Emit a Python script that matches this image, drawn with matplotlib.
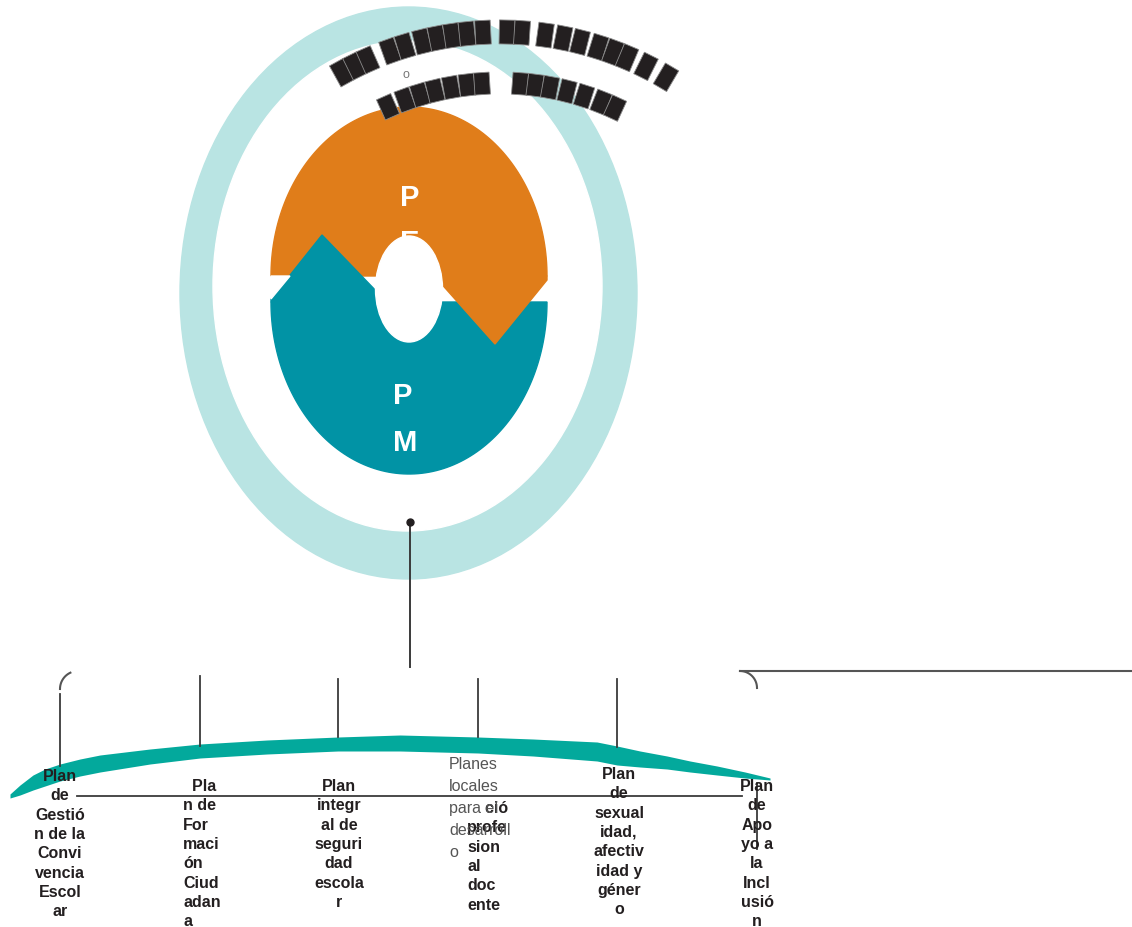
import numpy as np
import matplotlib
matplotlib.use("Agg")
import matplotlib.pyplot as plt
from matplotlib.patches import Ellipse, Polygon

# --- data -------------------------------------------------------------
center_letters_top = "P\nE"
center_letters_bottom = "P\nM\nE"

# x positions of the (unrendered) title glyph boxes along the two arcs
outer_block_x = [342, 355, 368, 390, 405, 422, 437, 452, 467, 483,
                 507, 522, 545, 563, 580, 598, 613, 627, 646, 666]
inner_block_x = [388, 405, 420, 435, 451, 467, 482,
                 520, 535, 550, 567, 584, 601, 615]

plan_labels = [
    "Plan\nde\nGestió\nn de la\nConvi\nvencia\nEscol\nar",
    "  Pla\nn de\nFor\nmaci\nón\nCiud\nadan\na",
    "Plan\nintegr\nal de\nseguri\ndad\nescola\nr",
    "    ció\nprofe\nsion\nal\ndoc\nente",
    "Plan\nde\nsexual\nidad,\nafectiv\nidad y\ngéner\no",
    "Plan\nde\nApo\nyo a\nla\nIncl\nusió\nn",
]
plan_faint_label = "Planes\nlocales\npara el\ndesarroll\no"

# swoosh band under the plans (pixel layout)
swoosh_x = [10, 20, 33, 45, 60, 80, 100, 150, 200, 267, 338, 400, 478, 533,
            597, 617, 640, 667, 690, 717, 745, 770]
swoosh_top = [795, 786, 776, 770, 765, 760, 756, 750, 745, 741, 738, 736, 738,
              740, 743, 747, 752, 757, 762, 767, 773, 779]
swoosh_bot = [799, 796, 791, 787, 782, 777, 773, 765, 759, 755, 752, 752, 754,
              757, 762, 766, 768, 770, 773, 776, 779, 781]

# --- style ------------------------------------------------------------
RING = "#b9e4e3"
ORANGE = "#e07d1a"
TEAL = "#0193a5"
SWOOSH = "#03a99c"
INK = "#231f20"
LINE = "#3a3a3a"
FONT = ["Liberation Sans", "DejaVu Sans"]

fig = plt.figure(figsize=(11.32, 9.28), dpi=100)
ax = fig.add_axes([0, 0, 1, 1])
ax.set_xlim(0, 1132)
ax.set_ylim(928, 0)
ax.axis("off")

# outer ring
ax.add_patch(Ellipse((408.5, 294), 457, 572, color=RING, zorder=1))
ax.add_patch(Ellipse((407.5, 287), 389, 490, color="white", zorder=1))

# orange top half and teal bottom half
t = np.linspace(0, np.pi, 120)
ox = 409 + 138 * np.cos(t)
oy = 277 - 169 * np.sin(t)
ax.add_patch(Polygon(np.column_stack([ox, oy]), color=ORANGE, zorder=2))
ty = 303 + 172 * np.sin(t)
ax.add_patch(Polygon(np.column_stack([ox, ty]), color=TEAL, zorder=2))
# teal peak on the left, orange wedge on the right
ax.add_patch(Polygon([(271, 303), (271, 300), (322, 236), (380, 296), (380, 303)],
                     color=TEAL, zorder=3))
ax.add_patch(Polygon([(438, 277), (547, 277), (547, 281), (495, 345), (438, 281)],
                     color=ORANGE, zorder=3))
ax.add_patch(Polygon([(271, 277), (290, 277), (271, 300)], color="white", zorder=3))

ax.text(400, 184, center_letters_top, color="white", fontsize=21, fontweight="bold",
        family=FONT, ha="left", va="top", multialignment="left",
        linespacing=1.79, zorder=4)
ax.text(393, 382, center_letters_bottom, color="white", fontsize=21, fontweight="bold",
        family=FONT, ha="left", va="top", multialignment="left",
        linespacing=1.87, zorder=4)

# hole
ax.add_patch(Ellipse((409, 290), 67, 106, color="white", zorder=5))


# glyph boxes along the arcs
def draw_blocks(xs, cx, cy, r, w, h):
    for x in xs:
        y = cy - np.sqrt(r ** 2 - (x - cx) ** 2)
        n = np.array([x - cx, y - cy]) / r
        tv = np.array([-n[1], n[0]])
        c = np.array([x, y])
        pts = [c - tv * w / 2 - n * h / 2, c + tv * w / 2 - n * h / 2,
               c + tv * w / 2 + n * h / 2, c - tv * w / 2 + n * h / 2]
        ax.add_patch(Polygon(pts, facecolor=INK, edgecolor="#8a8a8a",
                             linewidth=0.6, zorder=6))


draw_blocks(outer_block_x, 500, 360, 327, 15.5, 24)
draw_blocks(inner_block_x, 500, 360, 276, 15.5, 22)
ax.text(406, 75, "o", color="#777777", fontsize=9, family=FONT,
        ha="center", va="center", zorder=6)

# connector from the circle down to the plans
ax.plot([410, 410], [523, 668], color=LINE, lw=1.4, zorder=6)
ax.plot([410], [523], "o", color=INK, ms=5, zorder=6)

# bracket corners and top rule
a = np.linspace(np.pi, np.radians(115), 20)
ax.plot(78 + 18 * np.cos(a), 690 - 18 * np.sin(a), color="#555555", lw=1.5)
a = np.linspace(np.pi / 2, 0, 20)
ax.plot(740 + 17 * np.cos(a), 689 - 17 * np.sin(a), color="#555555", lw=1.5)
ax.plot([740, 1132], [672, 672], color="#555555", lw=1.5)

# swoosh
ax.fill_between(swoosh_x, swoosh_top, swoosh_bot, color=SWOOSH, lw=0, zorder=2)

# baseline and ticks
ax.plot([77, 742], [797, 797], color=LINE, lw=1.3, zorder=3)
tick_x = [60, 200, 338, 478, 617, 757]
tick_y0 = [695, 677, 680, 680, 680, 784]
tick_y1 = [767, 747, 738, 738, 748, 850]
for x, y0, y1 in zip(tick_x, tick_y0, tick_y1):
    ax.plot([x, x], [y0, y1], color=LINE, lw=1.3, zorder=3)

# plan labels
label_x = [60, 183, 339, 467, 619, 757]
label_y = [769, 779, 779, 801, 767, 779]
label_ha = ["center", "left", "center", "left", "center", "center"]
for txt, x, y, ha in zip(plan_labels, label_x, label_y, label_ha):
    ax.text(x, y, txt, fontsize=11.5, fontweight="bold", color=INK, family=FONT,
            ha=ha, va="top", multialignment=ha, linespacing=1.36, zorder=7)
ax.text(449, 757, plan_faint_label, fontsize=11.5, color="#555555", family=FONT,
        ha="left", va="top", multialignment="left", linespacing=1.58, zorder=7)

fig.savefig("out.png", dpi=100)
